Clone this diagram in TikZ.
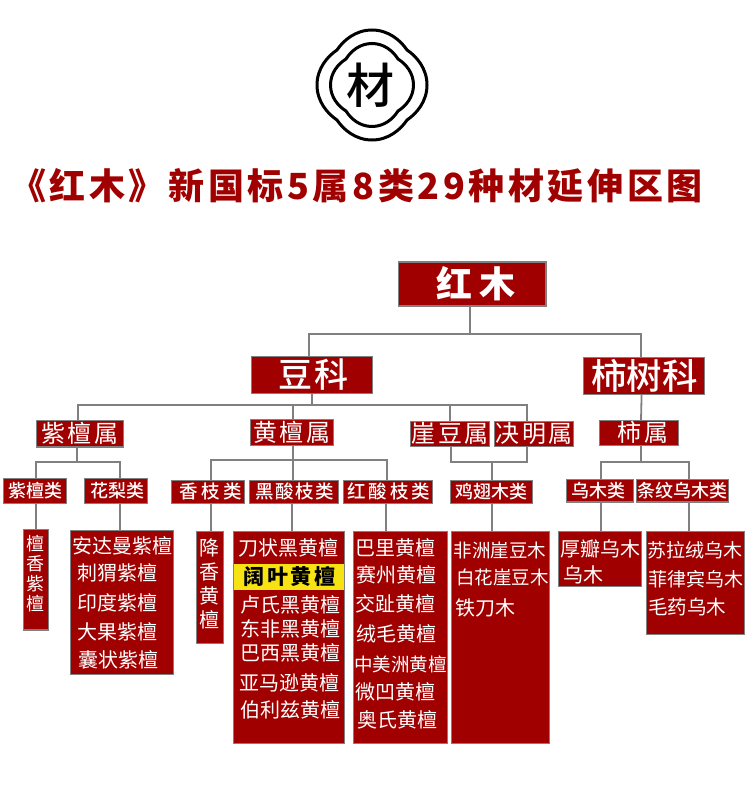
\documentclass[tikz,border=0pt]{standalone}
\usepackage{fontspec}
\setmainfont{Noto Sans CJK SC}
\newfontfamily\medfont{Noto Sans CJK SC Medium}
\definecolor{woodred}{HTML}{A00000}
\definecolor{linegray}{HTML}{808080}
\definecolor{markyellow}{HTML}{F7E314}
\newcommand{\fsz}[2]{\fontsize{#1}{#1}\selectfont\addfontfeature{LetterSpace=#2}}

\begin{document}
\begin{tikzpicture}[x=1pt, y=-1pt,
          redbox/.style={draw=linegray, fill=woodred, line width=1.2pt, inner sep=0pt, outer sep=0pt, text=white},
          link/.style={draw=linegray, line width=1.8pt},
          logoline/.style={line width=3pt},
          rowtext/.style={inner sep=0pt, text=white, font=\fsz{20}{0}},
          genus/.style={redbox, minimum height=25pt, font=\fsz{24}{11}},
          kind/.style={redbox, minimum height=23pt, font=\medfont\fsz{18}{0}},
        ]
          \useasboundingbox (0,0) rectangle (750,808);
          % logo
          \begin{scope}[shift={(372,85)}]
            \draw[logoline] (-35,-35) .. controls (-29,-44) and (-17,-55) .. (0,-55)
              .. controls (17,-55) and (29,-44) .. (35,-35)
              .. controls (44,-29) and (55,-17) .. (55,0)
              .. controls (55,17) and (44,29) .. (35,35)
              .. controls (29,44) and (17,55) .. (0,55)
              .. controls (-17,55) and (-29,44) .. (-35,35)
              .. controls (-44,29) and (-55,17) .. (-55,0)
              .. controls (-55,-17) and (-44,-29) .. (-35,-35) -- cycle;
            \draw[logoline] (-26,-26) .. controls (-21,-34) and (-12,-41.5) .. (0,-41.5)
              .. controls (12,-41.5) and (21,-34) .. (26,-26)
              .. controls (34,-21) and (41.5,-12) .. (41.5,0)
              .. controls (41.5,12) and (34,21) .. (26,26)
              .. controls (21,34) and (12,41.5) .. (0,41.5)
              .. controls (-12,41.5) and (-21,34) .. (-26,26)
              .. controls (-34,21) and (-41.5,12) .. (-41.5,0)
              .. controls (-41.5,-12) and (-34,-21) .. (-26,-26) -- cycle;
          \end{scope}
          \node[inner sep=0pt, font=\medfont\fsz{48}{0}] (cai) at (370.5,85) {材};
          \node[anchor=west, inner sep=0pt, text=woodred, font=\fsz{36}{10}\bfseries] (title) at (10,186) {《红木》新国标5属8类29种材延伸区图};
          % family level
          \node[redbox, minimum width=147.5pt, minimum height=44pt, font=\fsz{36}{20}\bfseries] (hongmu) at (472.2,284) {\hspace*{8pt}红木};
          \node[redbox, minimum width=121pt, minimum height=36.5pt, font=\medfont\fsz{34}{6}] (douke) at (311.8,375) {\hspace*{3pt}豆科};
          \node[redbox, minimum width=121pt, minimum height=37pt, font=\medfont\fsz{35.5}{0}] (shishuke) at (643.8,375.8) {\hspace*{1.5pt}柿树科};
          % genus level
          \node[genus, minimum width=86.7pt, minimum height=26.5pt] (zitanshu) at (79.9,433.8) {紫檀属};
          \node[genus, minimum width=83pt, minimum height=26pt] (huangtanshu) at (292,432.3) {黄檀属};
          \node[genus, minimum width=79pt] (yadoushu) at (449.8,433.8) {\hspace*{.5pt}崖豆属};
          \node[genus, minimum width=79pt] (juemingshu) at (533.8,433.8) {\hspace*{.5pt}决明属};
          \node[genus, minimum width=79pt] (shishu) at (638.8,432.8) {\hspace*{8.5pt}柿属};
          % kinds
          \node[kind, minimum width=63pt, minimum height=24.6pt] (zitanlei) at (34.8,491) {\hspace*{1pt}紫檀类};
          \node[kind, minimum width=63pt, minimum height=24.6pt] (hualilei) at (115.8,491) {\hspace*{2.4pt}花梨类};
          \node[kind, minimum width=73pt, font=\medfont\fsz{18.5}{19}] (xiangzhilei) at (208.2,491.8) {\hspace*{4.5pt}香枝类};
          \node[kind, minimum width=89pt, font=\medfont\fsz{18.5}{8}] (heisuanlei) at (294.2,491.8) {\hspace*{1.5pt}黑酸枝类};
          \node[kind, minimum width=89pt, font=\medfont\fsz{18.5}{15}] (hongsuanlei) at (387.8,491.8) {\hspace*{2pt}红酸枝类};
          \node[kind, minimum width=82pt] (jichilei) at (491.3,491.8) {鸡翅木类};
          \node[kind, minimum width=66.6pt, minimum height=22.7pt] (wumulei) at (600,490.7) {\hspace*{-4pt}乌木类};
          \node[kind, minimum width=91.6pt, minimum height=22.7pt] (tiaowenlei) at (682.5,490.7) {条纹乌木类};
          % species boxes
          \node[redbox, minimum width=25pt, minimum height=100.7pt] (tanxiang) at (36,579.7) {};
          \node[redbox, minimum width=103pt, minimum height=144pt] (huali) at (122.2,602.3) {};
          \node[redbox, minimum width=26.7pt, minimum height=111.7pt] (jiangxiang) at (210,587.5) {};
          \node[redbox, minimum width=111.3pt, minimum height=211.7pt] (heisuan) at (289,637.5) {};
          \node[redbox, minimum width=94.3pt, minimum height=211.7pt] (hongsuan) at (400.5,637.5) {};
          \node[redbox, minimum width=97.7pt, minimum height=211.7pt] (jichi) at (500.5,637.5) {};
          \node[redbox, minimum width=83pt, minimum height=55pt] (wumu) at (599.8,558.8) {};
          \node[redbox, minimum width=97.6pt, minimum height=103pt] (tiaowen) at (695.5,582.8) {};
          \node[fill=markyellow, minimum width=110pt, minimum height=26pt, inner sep=0pt, font=\fsz{21}{14}\bfseries] (kuoye) at (289,577) {\hspace*{1pt}阔叶黄檀};
          % species names
          \node[rowtext, align=center, font=\fsz{18}{0}] (tanxiangname) at (35.7,574) {檀\\[2pt]香\\[2pt]紫\\[2pt]檀};
          \node[rowtext, align=center] (jiangxiangname) at (209.7,584) {降\\[4pt]香\\[4pt]黄\\[4pt]檀};
          \node[rowtext] (huali1) at (122.3,546) {安达曼紫檀};
          \node[rowtext] (huali2) at (117,573.3) {刺猬紫檀};
          \node[rowtext] (huali3) at (117.3,603.3) {印度紫檀};
          \node[rowtext] (huali4) at (117,631.7) {大果紫檀};
          \node[rowtext] (huali5) at (118,660) {囊状紫檀};
          \node[rowtext] (heisuan1) at (288.3,548.3) {刀状黑黄檀};
          \node[rowtext] (heisuan2) at (290.2,605) {卢氏黑黄檀};
          \node[rowtext] (heisuan3) at (290,629.3) {东非黑黄檀};
          \node[rowtext] (heisuan4) at (290,653.3) {巴西黑黄檀};
          \node[rowtext] (heisuan5) at (289.2,683.3) {亚马逊黄檀};
          \node[rowtext] (heisuan6) at (290,710) {伯利兹黄檀};
          \node[rowtext] (hongsuan1) at (395.5,548.3) {巴里黄檀};
          \node[rowtext] (hongsuan2) at (396.2,575) {赛州黄檀};
          \node[rowtext] (hongsuan3) at (395.3,604.3) {交趾黄檀};
          \node[rowtext] (hongsuan4) at (396.8,634.3) {绒毛黄檀};
          \node[rowtext, font=\fsz{18.5}{0}] (hongsuan5) at (400.7,664.3) {中美洲黄檀};
          \node[rowtext] (hongsuan6) at (395.3,691.7) {微凹黄檀};
          \node[rowtext] (hongsuan7) at (397.2,720) {奥氏黄檀};
          \node[rowtext, font=\fsz{18.5}{0}] (jichi1) at (500,550) {非洲崖豆木};
          \node[rowtext, font=\fsz{18.5}{0}] (jichi2) at (502.7,577.7) {白花崖豆木};
          \node[rowtext] (jichi3) at (485.2,608) {铁刀木};
          \node[rowtext] (wumu1) at (600.5,549) {厚瓣乌木};
          \node[rowtext] (wumu2) at (583.2,575) {乌木};
          \node[rowtext, font=\fsz{19}{0}] (tiaowen1) at (695.3,550) {苏拉绒乌木};
          \node[rowtext, font=\fsz{19}{0}] (tiaowen2) at (696.2,579.3) {菲律宾乌木};
          \node[rowtext, font=\fsz{19.5}{0}] (tiaowen3) at (687,606.7) {毛药乌木};
          % junctions
          \coordinate (topbus) at (469.7,334);
          \coordinate (doubus) at (311.8,405);
          \coordinate (zitanbus) at (77,461.7);
          \coordinate (huangtanbus) at (292.7,460);
          \coordinate (jichibus) at (492,461.7);
          \coordinate (shibus) at (641,461.7);
          % connectors
          \draw[link] ([xshift=-2.5]hongmu.south) -- (topbus);
          \draw[link] ([xshift=-2.8]douke.north) |- (topbus) -| ([xshift=-2.8]shishuke.north);
          \draw[link] (douke.south) -- (doubus);
          \draw[link] ([xshift=-2.2]zitanshu.north) |- (doubus) -| ([xshift=-7]juemingshu.north);
          \draw[link] ([xshift=.7]huangtanshu.north |- doubus) -- ([xshift=.7]huangtanshu.north);
          \draw[link] (yadoushu.north |- doubus) -- (yadoushu.north);
          \draw[link] ([xshift=-2.2]shishuke.south) -- ([xshift=2.2]shishu.north);
          \draw[link] ([xshift=-2.9]zitanshu.south) -- (zitanbus);
          \draw[link] ([xshift=1.2]zitanlei.north) |- (zitanbus) -| ([xshift=3.9]hualilei.north);
          \draw[link] ([xshift=.7]huangtanshu.south) -- (huangtanbus);
          \draw[link] ([xshift=2.8]xiangzhilei.north) |- (huangtanbus) -| ([xshift=-.8]hongsuanlei.north);
          \draw[link] (huangtanbus) -- (huangtanbus |- heisuanlei.north);
          \draw[link] ([xshift=1.2]yadoushu.south) |- (jichibus) -| ([xshift=-6.8]juemingshu.south);
          \draw[link] (jichibus) -- ([xshift=.7]jichilei.north);
          \draw[link] ([xshift=2.2]shishu.south) -- (shibus);
          \draw[link] ([xshift=1]wumulei.north) |- (shibus) -| ([xshift=6.5]tiaowenlei.north);
          \draw[link] ([xshift=1.2]zitanlei.south) -- (tanxiang.north);
          \draw[link] ([xshift=3.9]hualilei.south) -- ([xshift=-2.5]huali.north);
          \draw[link] ([xshift=2.8]xiangzhilei.south) -- ([xshift=1]jiangxiang.north);
          \draw[link] ([xshift=-2.2]heisuanlei.south) -- ([xshift=3]heisuan.north);
          \draw[link] ([xshift=-1.8]hongsuanlei.south) -- ([xshift=-14.5]hongsuan.north);
          \draw[link] ([xshift=.7]jichilei.south) -- ([xshift=-8.5]jichi.north);
          \draw[link] ([xshift=1]wumulei.south) -- ([xshift=1.2]wumu.north);
          \draw[link] ([xshift=6.5]tiaowenlei.south) -- ([xshift=-6.5]tiaowen.north);
        \end{tikzpicture}
\end{document}
